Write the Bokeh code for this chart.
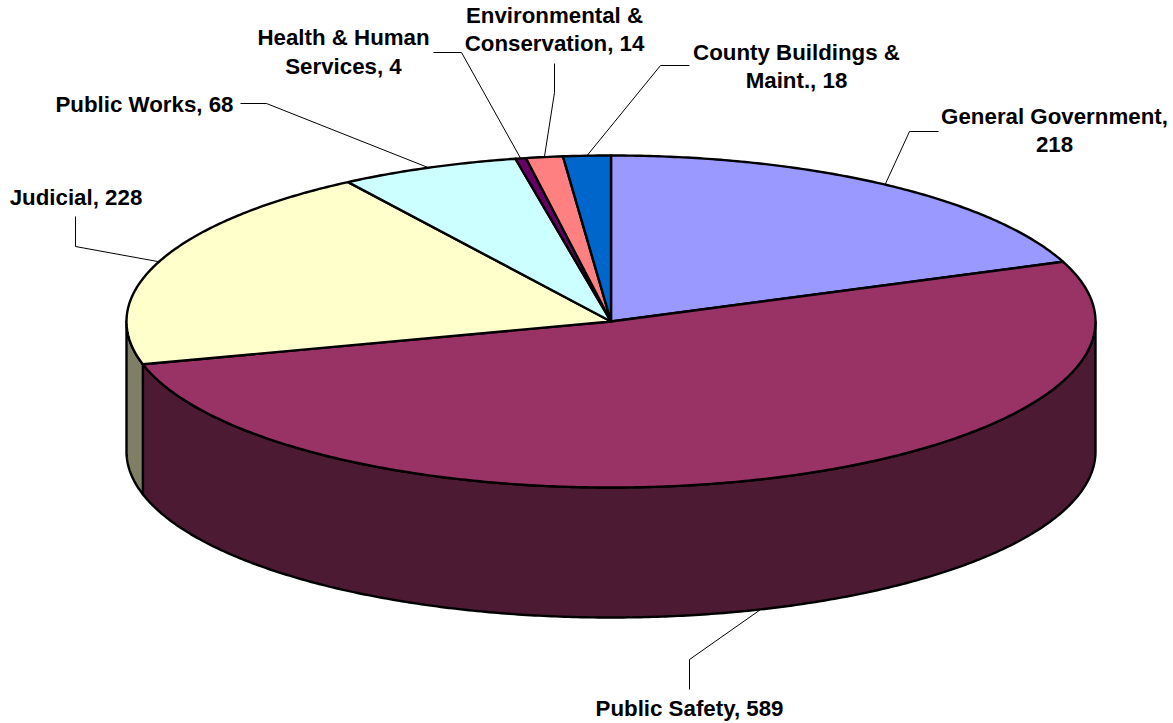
import math
from bokeh.plotting import figure
from bokeh.models import Range1d
from bokeh.core.properties import value
from bokeh.embed import file_html
from bokeh.resources import INLINE

categories = ["General Government", "Public Safety", "Judicial", "Public Works",
              "Health & Human\nServices", "Environmental &\nConservation", "County Buildings &\nMaint."]
values = [218, 589, 228, 68, 4, 14, 18]
separators = [",\n", ", ", ", ", ", ", ", ", ", ", ", "]
colors = ["#9999FF", "#993366", "#FFFFCC", "#CCFFFF", "#660066", "#FF8080", "#0066CC"]
side_colors = ["#4C4C7F", "#4D1A33", "#7F7F66", "#667F7F", "#330033", "#7F4040", "#003366"]

W, H = 1173, 723
CX, CY, RX, RY, DEPTH = 610.5, 321.0, 484.5, 166.0, 130.0
FONT = value("Liberation Sans")

p = figure(width=W, height=H, output_backend="svg", toolbar_location=None,
           x_range=Range1d(0, W), y_range=Range1d(H, 0),
           min_border=0, outline_line_color=None)
p.axis.visible = False
p.grid.visible = False
p.background_fill_color = "#FFFFFF"
p.border_fill_color = "#FFFFFF"


def pt(deg, drop=0.0):
    a = math.radians(deg)
    return CX + RX * math.sin(a), CY - RY * math.cos(a) + drop


def arc(a0, a1, drop=0.0):
    n = max(2, int(abs(a1 - a0) * 2) + 1)
    return [pt(a0 + (a1 - a0) * i / (n - 1), drop) for i in range(n)]


total = sum(values)
edges = [0.0]
for v in values:
    edges.append(edges[-1] + v / total * 360.0)

# side walls (front half of the disc only)
for i in range(len(values)):
    a0, a1 = max(edges[i], 90.0), min(edges[i + 1], 270.0)
    if a1 <= a0:
        continue
    pts = arc(a0, a1) + arc(a1, a0, DEPTH)
    p.patch([q[0] for q in pts], [q[1] for q in pts], fill_color=side_colors[i],
            line_color="#000000", line_width=2.4, line_join="round")

# top slices
for i in range(len(values)):
    pts = [(CX, CY)] + arc(edges[i], edges[i + 1])
    p.patch([q[0] for q in pts], [q[1] for q in pts], fill_color=colors[i],
            line_color="#000000", line_width=2.4, line_join="round")

# leader lines: elbow and end per slice, starting at the slice's mid angle on the rim
leader_path = [[(909, 131), (938, 131)], [(689, 659), (689, 689)], [(75, 246), (75, 216)],
               [(266, 103), (240, 103)], [(461, 52), (433, 52)], [(554, 92), (554, 63)],
               [(660, 65), (689, 65)]]
label_pos = [(1054, 115.5), (689, 708), (75.5, 197), (144, 103.5), (343, 37), (554, 14.5), (796, 51.5)]
LINE_H = 28.7

for i in range(len(values)):
    mid = (edges[i] + edges[i + 1]) / 2
    drop = DEPTH if 90 < mid < 270 else 0.0
    start = pt(mid, drop)
    path = [start] + leader_path[i]
    p.line([q[0] for q in path], [q[1] for q in path], line_color="#000000", line_width=1)
    lines = f"{categories[i]}{separators[i]}{values[i]}".split("\n")
    for j, t in enumerate(lines):
        p.text([label_pos[i][0]], [label_pos[i][1] + j * LINE_H], text=[t], text_font=FONT,
               text_font_size="22.3px", text_font_style="bold", text_color="#000000",
               text_align="center", text_baseline="middle")

open("out.html", "w").write(file_html(p, INLINE))
